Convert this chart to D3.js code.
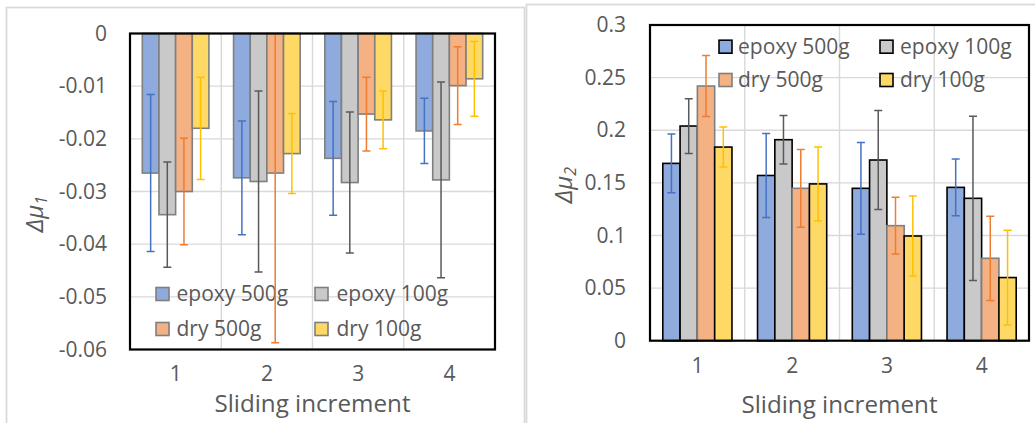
<!DOCTYPE html>
<html>
<head>
<meta charset="utf-8">
<script src="https://cdn.jsdelivr.net/npm/d3@7"></script>
<style>
  body { margin: 0; background: #fff; }
  svg { display: block; }
  text { font-family: "Open Sans", sans-serif; fill: #595959; }
</style>
</head>
<body>
<svg id="fig" width="1035" height="423"></svg>
<script>
// Shared categories and series
const categories = ["1", "2", "3", "4"];
const seriesNames = ["epoxy 500g", "epoxy 100g", "dry 500g", "dry 100g"];

// Δμ1 means and error half-widths per sliding increment
const mu1Epoxy500 = [-0.0265, -0.0274, -0.0237, -0.0185];
const mu1Epoxy500Err = [0.0149, 0.0108, 0.0108, 0.0062];
const mu1Epoxy100 = [-0.0344, -0.0281, -0.0283, -0.0278];
const mu1Epoxy100Err = [0.0100, 0.0172, 0.0134, 0.0186];
const mu1Dry500 = [-0.0300, -0.0265, -0.0153, -0.0099];
const mu1Dry500Err = [0.0101, 0.0322, 0.0070, 0.0074];
const mu1Dry100 = [-0.0180, -0.0228, -0.0164, -0.0086];
const mu1Dry100Err = [0.0097, 0.0076, 0.0055, 0.0071];
const mu1Ticks = [0, -0.01, -0.02, -0.03, -0.04, -0.05, -0.06];
const mu1TickLabels = ["0", "-0.01", "-0.02", "-0.03", "-0.04", "-0.05", "-0.06"];

// Δμ2 means and error half-widths per sliding increment
const mu2Epoxy500 = [0.1685, 0.157, 0.1448, 0.1457];
const mu2Epoxy500Err = [0.028, 0.040, 0.0436, 0.027];
const mu2Epoxy100 = [0.204, 0.191, 0.1717, 0.1353];
const mu2Epoxy100Err = [0.026, 0.023, 0.047, 0.078];
const mu2Dry500 = [0.242, 0.1448, 0.1093, 0.0783];
const mu2Dry500Err = [0.029, 0.037, 0.027, 0.040];
const mu2Dry100 = [0.184, 0.149, 0.0995, 0.060];
const mu2Dry100Err = [0.019, 0.035, 0.038, 0.045];
const mu2Ticks = [0, 0.05, 0.1, 0.15, 0.2, 0.25, 0.3];
const mu2TickLabels = ["0", "0.05", "0.1", "0.15", "0.2", "0.25", "0.3"];

// Styling
const barFill = ["#8FAADC", "#C9C9C9", "#F4B183", "#FFD966"];
const errColor = ["#4472C4", "#595959", "#ED7D31", "#FFC000"];
const gridColor = "#D9D9D9";

const svg = d3.select("#fig");

function drawPanel(cfg) {
  const g = svg.append("g");

  // chart area border
  g.append("rect")
    .attr("x", cfg.frame.x).attr("y", cfg.frame.y)
    .attr("width", cfg.frame.w).attr("height", cfg.frame.h)
    .attr("fill", "none").attr("stroke", gridColor).attr("stroke-width", 1.75);

  const p = cfg.plot;
  const y = d3.scaleLinear().domain(cfg.domain).range([p.bottom, p.top]);
  const x = d3.scaleBand().domain(categories).range([p.left, p.right])
    .paddingInner(0.27).paddingOuter(0.135);
  const xs = d3.scaleBand().domain(seriesNames).range([0, x.bandwidth()]);
  const step = x.step();

  // horizontal gridlines + tick labels
  const yAxis = d3.axisLeft(y).tickValues(cfg.ticks)
    .tickSize(0).tickPadding(p.left - cfg.tickRight)
    .tickFormat((d, i) => cfg.tickLabels[i]);
  const ya = g.append("g").attr("transform", `translate(${p.left},0)`).call(yAxis);
  ya.select(".domain").remove();
  ya.selectAll("text").attr("font-size", 21).attr("fill", "#595959")
    .attr("font-family", "Open Sans");

  g.append("g").selectAll("line").data(cfg.ticks).join("line")
    .attr("x1", p.left).attr("x2", p.right)
    .attr("y1", d => y(d)).attr("y2", d => y(d))
    .attr("stroke", gridColor).attr("stroke-width", 1.4);

  // vertical gridlines between categories
  g.append("g").selectAll("line").data(d3.range(1, categories.length)).join("line")
    .attr("x1", d => p.left + d * step).attr("x2", d => p.left + d * step)
    .attr("y1", p.top).attr("y2", p.bottom)
    .attr("stroke", gridColor).attr("stroke-width", 1.4);

  // bars
  const rows = [];
  cfg.series.forEach((s, si) => {
    s.values.forEach((v, ci) => rows.push({ si, cat: categories[ci], v, e: s.errors[ci] }));
  });
  const bx = d => x(d.cat) + xs(seriesNames[d.si]);
  g.append("g").selectAll("rect").data(rows).join("rect")
    .attr("x", bx)
    .attr("y", d => Math.min(y(0), y(d.v)))
    .attr("width", xs.bandwidth())
    .attr("height", d => Math.abs(y(d.v) - y(0)))
    .attr("fill", d => barFill[d.si])
    .attr("stroke", d => cfg.barStroke[d.si])
    .attr("stroke-width", 1.6);

  // legend
  const lg = g.append("g");
  seriesNames.forEach((name, i) => {
    const col = i % 2, row = Math.floor(i / 2);
    const cy = cfg.legend.rows[row];
    lg.append("rect")
      .attr("x", cfg.legend.swatch[col]).attr("y", cy - 6.5)
      .attr("width", 13).attr("height", 13)
      .attr("fill", barFill[i]).attr("stroke", cfg.barStroke[i]).attr("stroke-width", 1.6);
    lg.append("text")
      .attr("x", cfg.legend.text[col]).attr("y", cy)
      .attr("dy", "0.35em").attr("font-size", 21).text(name);
  });

  // error bars, clipped to the plot area
  const clipId = "clip" + cfg.id;
  g.append("clipPath").attr("id", clipId).append("rect")
    .attr("x", p.left).attr("y", p.top)
    .attr("width", p.right - p.left).attr("height", p.bottom - p.top);
  const eg = g.append("g").attr("clip-path", `url(#${clipId})`);
  const cx = d => bx(d) + xs.bandwidth() / 2;
  rows.forEach(d => {
    const c = errColor[d.si];
    const ex = cx(d);
    eg.append("line").attr("x1", ex).attr("x2", ex)
      .attr("y1", y(d.v + d.e)).attr("y2", y(d.v - d.e))
      .attr("stroke", c).attr("stroke-width", 1.5);
    [d.v + d.e, d.v - d.e].forEach(t => {
      eg.append("line").attr("x1", ex - 4).attr("x2", ex + 4)
        .attr("y1", y(t)).attr("y2", y(t))
        .attr("stroke", c).attr("stroke-width", 1.5);
    });
  });

  // plot area frame
  g.append("rect")
    .attr("x", p.left).attr("y", p.top)
    .attr("width", p.right - p.left).attr("height", p.bottom - p.top)
    .attr("fill", "none").attr("stroke", "#000").attr("stroke-width", 2.2);

  // category labels
  const xAxis = d3.axisBottom(x).tickSize(0).tickPadding(0);
  const xa = g.append("g").attr("transform", `translate(0,${cfg.xTickBaseline})`).call(xAxis);
  xa.select(".domain").remove();
  xa.selectAll("text").attr("dy", null).attr("y", 0)
    .attr("font-size", 21).attr("fill", "#595959").attr("font-family", "Open Sans");

  // axis titles
  g.append("text")
    .attr("x", (p.left + p.right) / 2).attr("y", cfg.xTitleBaseline)
    .attr("text-anchor", "middle").attr("font-size", 24.2)
    .text("Sliding increment");

  const yt = g.append("text")
    .attr("transform", `translate(${cfg.yTitle.x},${cfg.yTitle.y}) rotate(-90)`)
    .attr("text-anchor", "middle").attr("font-size", 24).attr("font-style", "italic");
  yt.append("tspan").text("Δμ");
  yt.append("tspan").attr("font-size", 16).attr("dy", "0.25em").text(cfg.yTitle.sub);
}

drawPanel({
  id: "mu1",
  frame: { x: 6.5, y: 7.5, w: 518, h: 440 },
  plot: { left: 130, right: 495, top: 33.5, bottom: 349.5 },
  domain: [-0.06, 0],
  ticks: mu1Ticks, tickLabels: mu1TickLabels, tickRight: 107,
  series: [
    { values: mu1Epoxy500, errors: mu1Epoxy500Err },
    { values: mu1Epoxy100, errors: mu1Epoxy100Err },
    { values: mu1Dry500, errors: mu1Dry500Err },
    { values: mu1Dry100, errors: mu1Dry100Err }
  ],
  barStroke: ["#7F7F7F", "#7F7F7F", "#7F7F7F", "#7F7F7F"],
  legend: { rows: [294, 329], swatch: [156, 315], text: [176.5, 336.5] },
  xTickBaseline: 381,
  xTitleBaseline: 412,
  yTitle: { x: 43, y: 214, sub: "1" }
});

drawPanel({
  id: "mu2",
  frame: { x: 526.5, y: 4.5, w: 540, h: 440 },
  plot: { left: 650, right: 1029, top: 25, bottom: 340.7 },
  domain: [0, 0.3],
  ticks: mu2Ticks, tickLabels: mu2TickLabels, tickRight: 626,
  series: [
    { values: mu2Epoxy500, errors: mu2Epoxy500Err },
    { values: mu2Epoxy100, errors: mu2Epoxy100Err },
    { values: mu2Dry500, errors: mu2Dry500Err },
    { values: mu2Dry100, errors: mu2Dry100Err }
  ],
  barStroke: ["#000000", "#000000", "#7F7F7F", "#000000"],
  legend: { rows: [46.7, 80], swatch: [719, 880], text: [738, 900] },
  xTickBaseline: 373,
  xTitleBaseline: 412.5,
  yTitle: { x: 572, y: 185, sub: "2" }
});
</script>
</body>
</html>
